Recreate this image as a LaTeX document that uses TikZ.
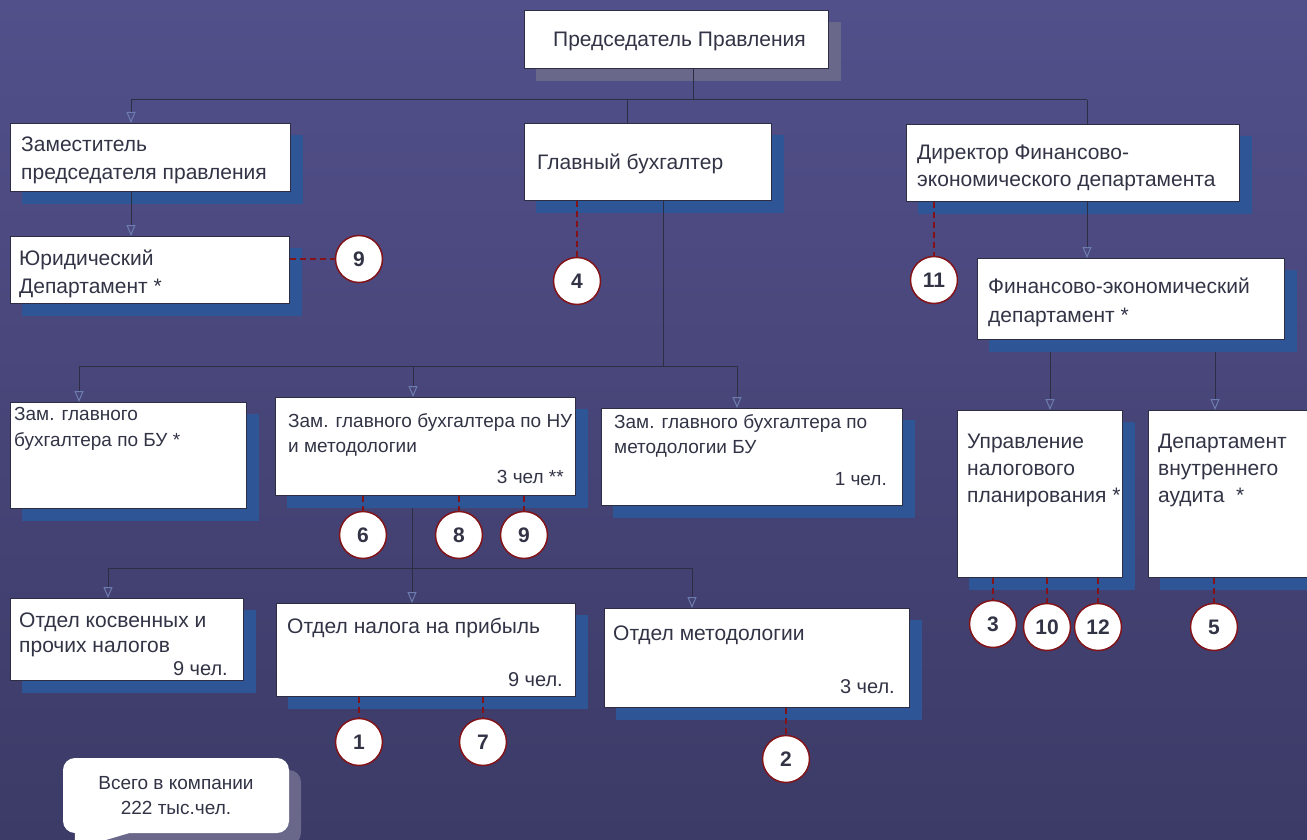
\documentclass[tikz,border=0pt]{standalone}
\usepackage{fontspec}
\setmainfont{Liberation Sans}
\usetikzlibrary{arrows.meta,calc}
\definecolor{bgtop}{RGB}{82,80,138}
\definecolor{bgbot}{RGB}{60,58,102}
\definecolor{shblue}{RGB}{46,86,150}
\definecolor{shgray}{RGB}{105,104,138}
\definecolor{txt}{RGB}{50,52,70}
\definecolor{lnc}{RGB}{45,45,68}
\definecolor{dred}{RGB}{130,20,25}
\definecolor{arrc}{RGB}{110,125,175}
\pgfdeclarelayer{bglayer}\pgfdeclarelayer{lnlow}\pgfdeclarelayer{shlayer}\pgfdeclarelayer{lnhigh}
\pgfsetlayers{bglayer,lnlow,shlayer,lnhigh,main}
\begin{document}
\begin{tikzpicture}[x=1pt,y=-1pt,
 box/.style={draw=lnc, line width=0.8pt, fill=white, anchor=north west, inner sep=0pt},
 lbl/.style={anchor=base west, inner sep=0pt, text=txt, font=\fontsize{21}{25}\selectfont},
 slbl/.style={anchor=base west, inner sep=0pt, text=txt, font=\fontsize{19}{25}\selectfont},
 rlbl/.style={anchor=base east, inner sep=0pt, text=txt, font=\fontsize{19}{25}\selectfont},
 rblbl/.style={anchor=base east, inner sep=0pt, text=txt, font=\fontsize{20}{25}\selectfont},
 num/.style={circle, draw=dred, line width=1.5pt, fill=white, minimum size=47pt, inner sep=0pt, text=txt, font=\fontsize{21}{21}\selectfont\bfseries},
 dsh/.style={draw=dred, line width=1.6pt, dash pattern=on 6pt off 4pt},
 conn/.style={draw=lnc, line width=1pt},
 arr/.style={conn, -{Triangle[open, length=11pt, width=9pt, color=arrc, line width=1pt]}},
 bubble/.style={fill=white, rounded corners=12pt, minimum width=226pt, minimum height=75pt, inner sep=0pt, align=center, text=txt, font=\fontsize{19}{25}\selectfont},
]
\useasboundingbox (0,0) rectangle (1307,840);
\begin{pgfonlayer}{bglayer}
\shade[top color=bgtop, bottom color=bgbot] (0,0) rectangle (1307,840);
\end{pgfonlayer}

% boxes
\node[box, minimum width=304pt, minimum height=58pt] (chair) at (524,10) {};
\node[box, minimum width=280pt, minimum height=68pt] (zam) at (10,123) {};
\node[box, minimum width=279pt, minimum height=67pt] (yur) at (10,236) {};
\node[box, minimum width=247pt, minimum height=77pt] (gb) at (524,123) {};
\node[box, minimum width=333pt, minimum height=77pt] (dir) at (906,124) {};
\node[box, minimum width=307pt, minimum height=81pt] (fin) at (977,258) {};
\node[box, minimum width=236pt, minimum height=106pt] (zbu) at (10,402) {};
\node[box, minimum width=300pt, minimum height=98pt] (znu) at (275,397) {};
\node[box, minimum width=301pt, minimum height=97pt] (zmet) at (601,408) {};
\node[box, minimum width=233pt, minimum height=82pt] (okos) at (10,598) {};
\node[box, minimum width=299pt, minimum height=93pt] (onp) at (276,603) {};
\node[box, minimum width=305pt, minimum height=99pt] (omet) at (604,608) {};
\node[box, minimum width=165pt, minimum height=167pt] (unp) at (957,410) {};
\node[box, minimum width=175pt, minimum height=167pt] (dva) at (1148,410) {};

% shadows
\begin{pgfonlayer}{shlayer}
\fill[shgray] ([shift={(12,12)}]chair.north west) rectangle ([shift={(12,12)}]chair.south east);
\foreach \n in {zam,yur,gb,dir,fin,zbu,znu,zmet,okos,onp,omet,unp,dva}
  \fill[shblue] ([shift={(12,12)}]\n.north west) rectangle ([shift={(12,12)}]\n.south east);
\end{pgfonlayer}

% texts
\node[lbl] (t0) at (553,47) {Председатель Правления};
\node[lbl] (t1) at (21,152) {Заместитель};
\node[lbl] (t2) at (21,179) {председателя правления};
\node[lbl] (t3) at (19,265) {Юридический};
\node[lbl] (t4) at (19,293) {Департамент *};
\node[lbl] (t5) at (537,169) {Главный бухгалтер};
\node[lbl] (t6) at (917,160) {Директор Финансово-};
\node[lbl] (t7) at (917,186) {экономического департамента};
\node[lbl] (t8) at (988,293) {Финансово-экономический};
\node[lbl] (t9) at (988,322) {департамент *};
\node[lbl] (t10) at (967,448) {Управление};
\node[lbl] (t11) at (967,475) {налогового};
\node[lbl] (t12) at (967,502) {планирования *};
\node[lbl] (t13) at (1158,448) {Департамент};
\node[lbl] (t14) at (1158,475) {внутреннего};
\node[lbl] (t15) at (1158,502) {аудита\ \ *};
\node[slbl] (t16) at (14,420) {Зам. главного};
\node[slbl] (t17) at (14,446) {бухгалтера по БУ *};
\node[slbl] (t18) at (288,427) {Зам. главного бухгалтера по НУ};
\node[slbl] (t19) at (288,452) {и методологии};
\node[rlbl] (t20) at (564,483) {3 чел **};
\node[slbl] (t21) at (614,428) {Зам. главного бухгалтера по};
\node[slbl] (t22) at (614,453) {методологии БУ};
\node[rlbl] (t23) at (887,485) {1 чел.};
\node[lbl] (t24) at (19,627) {Отдел косвенных и};
\node[lbl] (t25) at (19,652) {прочих налогов};
\node[rblbl] (t26) at (228,675) {9 чел.};
\node[lbl] (t27) at (287,633) {Отдел налога на прибыль};
\node[rblbl] (t28) at (563,686) {9 чел.};
\node[lbl] (t29) at (613,640) {Отдел методологии};
\node[rblbl] (t30) at (895,693) {3 чел.};

% connectors
\coordinate (b0) at (693,100);
\coordinate (bL) at (131,100);
\coordinate (bM) at (627,100);
\coordinate (bR) at (1087,100);
\coordinate (m0) at (663,366);
\coordinate (mL) at (79,366);
\coordinate (mM) at (413,366);
\coordinate (mR) at (737,366);
\coordinate (l0) at (412,568);
\coordinate (lL) at (108,568);
\coordinate (lR) at (692,568);
\coordinate (f1) at (1050,380);
\coordinate (f2) at (1215,380);
\begin{pgfonlayer}{lnhigh}
\draw[conn] (b0 |- chair.south) -- (b0);
\draw[conn] (bL) -- (bR);
\draw[arr] (bL) -- (bL |- zam.north);
\draw[conn] (bM) -- (bM |- gb.north);
\draw[conn] (bR) -- (bR |- dir.north);
\draw[arr] (bL |- zam.south) -- (bL |- yur.north);
\draw[arr] (bR |- dir.south) -- (bR |- fin.north);
\draw[conn] (m0 |- gb.south) -- (m0);
\draw[conn] (mL) -- (mR);
\draw[arr] (mL) -- (mL |- zbu.north);
\draw[arr] (mM) -- (mM |- znu.north);
\draw[arr] (mR) -- (mR |- zmet.north);
\draw[conn] (lL) -- (lR);
\draw[arr] (lL) -- (lL |- okos.north);
\draw[arr] (l0) -- (l0 |- onp.north);
\draw[arr] (lR) -- (lR |- omet.north);
\end{pgfonlayer}
\begin{pgfonlayer}{lnlow}
\draw[conn] (l0 |- znu.south) -- (l0);
\draw[arr] (f1 |- fin.south) -- (f1 |- unp.north);
\draw[arr] (f2 |- fin.south) -- (f2 |- dva.north);
\end{pgfonlayer}

% circles
\node[num] (c9a) at (359,259) {9};
\node[num] (c4) at (577,281) {4};
\node[num] (c11) at (934,280) {11};
\node[num] (c6) at (363,535) {6};
\node[num] (c8) at (459,535) {8};
\node[num] (c9b) at (524,535) {9};
\node[num] (c1) at (359,742) {1};
\node[num] (c7) at (483,742) {7};
\node[num] (c2) at (786,759) {2};
\node[num] (c3) at (993,624) {3};
\node[num] (c10) at (1047,627) {10};
\node[num] (c12) at (1098,627) {12};
\node[num] (c5) at (1214,627) {5};
\begin{pgfonlayer}{lnhigh}
\draw[dsh] (c9a -| yur.east) -- (c9a.west);
\draw[dsh] (c4 |- gb.south) -- (c4.north);
\draw[dsh] (c11 |- dir.south) -- (c11.north);
\draw[dsh] (c6 |- znu.south) -- (c6.north);
\draw[dsh] (c8 |- znu.south) -- (c8.north);
\draw[dsh] (c9b |- znu.south) -- (c9b.north);
\draw[dsh] (c1 |- onp.south) -- (c1.north);
\draw[dsh] (c7 |- onp.south) -- (c7.north);
\draw[dsh] (c2 |- omet.south) -- (c2.north);
\draw[dsh] (c3 |- unp.south) -- (c3.north);
\draw[dsh] (c10 |- unp.south) -- (c10.north);
\draw[dsh] (c12 |- unp.south) -- (c12.north);
\draw[dsh] (c5 |- dva.south) -- (c5.north);
\end{pgfonlayer}

% bubble
\fill[shgray, rounded corners=12pt] (75,770) rectangle (301,845);
\node[bubble] (tot) at (176,795.5) {Всего в компании\\222 тыс.чел.};
\fill[white] ($(tot.south west)+(12,-8)$) -- ($(tot.south west)+(66,0)$) -- ($(tot.south west)+(12,16)$) -- cycle;
\end{tikzpicture}
\end{document}
